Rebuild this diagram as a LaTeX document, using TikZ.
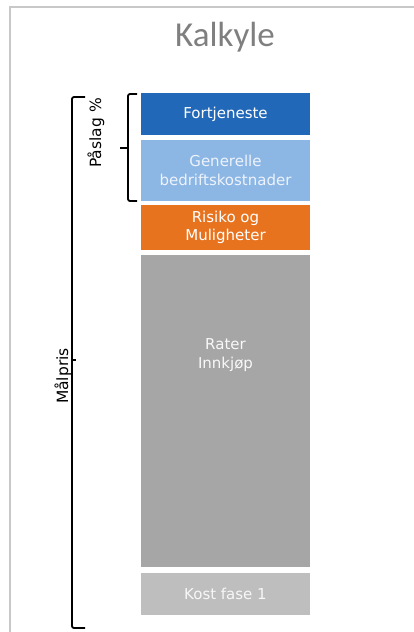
\documentclass[tikz,border=0pt]{standalone}
\usepackage{fontspec}
\setmainfont{DejaVu Sans}
\newfontfamily\titlefont{Carlito}
\definecolor{framegray}{HTML}{C8C8C8}
\definecolor{titlegray}{HTML}{7F7F7F}
\definecolor{darkblue}{HTML}{2268B8}
\definecolor{lightblue}{HTML}{8CB6E4}
\definecolor{lightbluetext}{HTML}{EDF3FB}
\definecolor{orangebox}{HTML}{E8731F}
\definecolor{midgray}{HTML}{A6A6A6}
\definecolor{palegray}{HTML}{BEBEBE}
\begin{document}
\begin{tikzpicture}[x=1pt,y=-1pt,
  block/.style={minimum width=169pt, inner sep=0pt, align=center,
    font=\fontsize{15}{18.5}\selectfont, text=white},
  bracket/.style={draw=black, line width=1.8pt, rounded corners=2pt},
  sidelabel/.style={rotate=90, font=\fontsize{15.5}{18}\selectfont, text=black}]
  \useasboundingbox (0,0) rectangle (414,632);
  % page frame
  \draw[framegray, line width=1.5pt] (10,632) -- (10,7) -- (414,7);
  % title
  \node[text=titlegray, font=\titlefont\fontsize{35}{40}\selectfont] (title) at (225,37) {Kalkyle};
  % cost stack
  \node[block, fill=darkblue, minimum height=42pt] (fortj) at (225.5,114) {Fortjeneste};
  \node[block, fill=lightblue, text=lightbluetext, minimum height=61pt] (gen) at (225.5,170.5) {Generelle\\bedriftskostnader};
  \node[block, fill=orangebox, minimum height=45pt] (risk) at (225.5,227.5) {Risiko og\\Muligheter};
  \node[block, fill=midgray, minimum height=312pt] (rater) at (225.5,411) {};
  \node[block, text=white!92!midgray] (raterlbl) at (225.5,355) {Rater\\Innkjøp};
  \node[block, fill=palegray, text=white!88!palegray, minimum height=42pt] (kost) at (225.5,594) {Kost fase 1};
  % markup bracket
  \coordinate (pTop) at (137,94);
  \coordinate (pBot) at (137,201);
  \coordinate (pMid) at (120,148);
  \draw[bracket] (pTop) -- (128,94) -- (128,201) -- (pBot);
  \draw[bracket, rounded corners=0pt] (128,148) -- (pMid);
  \node[sidelabel] (paslag) at (96,133) {Påslag \%};
  % target price bracket
  \coordinate (mTop) at (85,97);
  \coordinate (mBot) at (85,628);
  \coordinate (mMid) at (76,360);
  \draw[bracket] (mTop) -- (72,97) -- (72,628) -- (mBot);
  \draw[bracket, rounded corners=0pt] (72,360) -- (mMid);
  \node[sidelabel] (malpris) at (63,376) {Målpris};
\end{tikzpicture}
\end{document}
